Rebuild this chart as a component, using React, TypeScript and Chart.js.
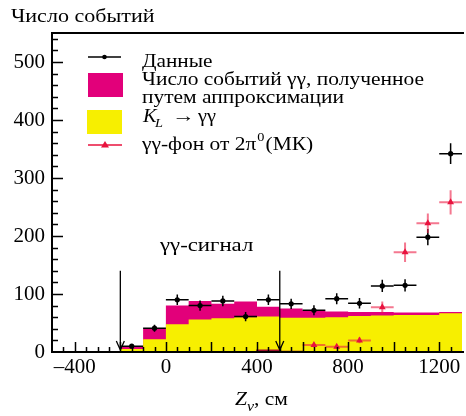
import { useEffect, useRef } from 'react';
import { Chart, registerables } from 'chart.js';

Chart.register(...registerables);

// ---- data ----
const binEdges = [-200, -100, 0, 100, 200, 300, 400, 500, 600, 700, 800, 900, 1000, 1100, 1200, 1300];
const fitTotal = [10, 40, 80, 88, 83, 87, 78, 75, 71, 70, 69, 69, 68, 68, 69];
const klSignal = [5, 22, 48, 56, 58, 60, 61, 59, 59, 60, 62, 63, 64, 64, 67];

const baseEdges = [-500, -400, -300, -200, -100, 0, 100, 200, 300, 400, 500, 600, 700, 800, 900, 1000, 1100, 1200, 1300];
const baseValues = [0, 0, 0, 0, 0, 0, 0, 0, 0, 3, 1, 0, 0, 0, 0, 0, 0, 0];

const dataZ = [-150, -50, 50, 150, 250, 350, 450, 550, 650, 750, 850, 950, 1050, 1150, 1250];
const dataN = [10, 41, 90, 80, 88, 61, 90, 83, 72, 92, 84, 114, 115, 198, 342];
const dataErr = [3, 6, 9, 9, 9, 8, 9, 9, 8.5, 9.5, 9, 10.5, 10.5, 14, 18];

const mcZ = [650, 750, 850, 950, 1050, 1150, 1250];
const mcN = [12, 9, 20, 77, 172, 222, 258];
const mcErr = [4, 4, 5, 10, 17, 17, 21];

const zErr = 50;
const cutZ = [-200, 500];
const cutTop = 140;

const xTickLabels = [-400, 0, 400, 800, 1200];
const yTickLabels = [0, 100, 200, 300, 400, 500];

const SERIF = '"Liberation Serif", "Times New Roman", serif';
const MAGENTA = '#E2007A';
const YELLOW = '#F7EF00';
const RED = '#E8123E';
const RED_ERR = 'rgba(236, 30, 70, 0.6)';
const STRETCH = 1.13;

function edgesToPoints(edges: number[], vals: number[]) {
  return edges.map((e, i) => ({ x: e, y: i < vals.length ? vals[i] : vals[vals.length - 1] }));
}

function txt(ctx: CanvasRenderingContext2D, s: string, x: number, y: number, font: string, k = STRETCH) {
  ctx.save();
  ctx.font = font;
  ctx.translate(x, y);
  ctx.scale(k, 1);
  ctx.fillText(s, 0, 0);
  const w = ctx.measureText(s).width * k;
  ctx.restore();
  return x + w;
}

function drawErrors(chart: any, xs: number[], ys: number[], errs: number[], color: string, lw: number) {
  const ctx = chart.ctx;
  const sx = chart.scales.x;
  const sy = chart.scales.y;
  const a = chart.chartArea;
  ctx.save();
  ctx.beginPath();
  ctx.rect(a.left, a.top, a.right - a.left, a.bottom - a.top);
  ctx.clip();
  ctx.strokeStyle = color;
  ctx.lineWidth = lw;
  for (let i = 0; i < xs.length; i++) {
    const px = sx.getPixelForValue(xs[i]);
    const py = sy.getPixelForValue(ys[i]);
    ctx.beginPath();
    ctx.moveTo(sx.getPixelForValue(xs[i] - zErr), py);
    ctx.lineTo(sx.getPixelForValue(xs[i] + zErr), py);
    ctx.moveTo(px, sy.getPixelForValue(ys[i] - errs[i]));
    ctx.lineTo(px, sy.getPixelForValue(ys[i] + errs[i]));
    ctx.stroke();
  }
  ctx.restore();
}

const decorPlugin = {
  id: 'decor',
  beforeDatasetDraw(chart: any, args: any) {
    if (args.index === 3) drawErrors(chart, dataZ, dataN, dataErr, '#000', 1.5);
    if (args.index === 4) drawErrors(chart, mcZ, mcN, mcErr, RED_ERR, 2);
  },
  afterDraw(chart: any) {
    const ctx = chart.ctx;
    const sx = chart.scales.x;
    const sy = chart.scales.y;
    const { left, right, top, bottom } = chart.chartArea;
    ctx.save();
    // frame
    ctx.strokeStyle = '#000';
    ctx.lineWidth = 2;
    ctx.beginPath();
    ctx.moveTo(right + 2, top);
    ctx.lineTo(left, top);
    ctx.lineTo(left, bottom);
    ctx.lineTo(right + 2, bottom);
    ctx.stroke();
    // x ticks (inward)
    ctx.lineWidth = 1.5;
    ctx.beginPath();
    for (let v = -500; v <= 1300; v += 50) {
      const px = Math.round(sx.getPixelForValue(v)) + 0.5;
      if (px <= left + 1 || px >= right) continue;
      const len = v % 200 === 0 ? 10 : 5;
      ctx.moveTo(px, bottom);
      ctx.lineTo(px, bottom - len);
    }
    // y ticks (inward)
    for (let v = 0; v <= 550; v += 20) {
      const py = Math.round(sy.getPixelForValue(v)) + 0.5;
      if (py >= bottom - 1 || py <= top + 1) continue;
      const len = v % 100 === 0 ? 11 : 6;
      ctx.moveTo(left, py);
      ctx.lineTo(left + len, py);
    }
    ctx.stroke();

    // cut arrows
    ctx.lineWidth = 1.3;
    for (const z of cutZ) {
      const px = sx.getPixelForValue(z);
      const pt = sy.getPixelForValue(cutTop);
      const pb = sy.getPixelForValue(0) - 2;
      ctx.beginPath();
      ctx.moveTo(px, pt);
      ctx.lineTo(px, pb);
      ctx.moveTo(px - 4, pb - 9);
      ctx.lineTo(px, pb);
      ctx.lineTo(px + 4, pb - 9);
      ctx.stroke();
    }

    ctx.fillStyle = '#000';
    ctx.textBaseline = 'alphabetic';
    ctx.textAlign = 'left';

    // signal label
    txt(ctx, 'γγ-сигнал', 160, 251, `19px ${SERIF}`, 1.2);

    // y title
    txt(ctx, 'Число событий', 11, 22, `19px ${SERIF}`, 1.16);

    // x title
    let x = txt(ctx, 'Z', 235, 405, `italic 19px ${SERIF}`);
    x = txt(ctx, 'v', x, 411, `italic 14px ${SERIF}`);
    txt(ctx, ', см', x, 405, `19px ${SERIF}`);

    // legend
    const tx = 142;
    const lf = `18.5px ${SERIF}`;
    ctx.strokeStyle = '#000';
    ctx.lineWidth = 1.5;
    ctx.beginPath();
    ctx.moveTo(88, 57);
    ctx.lineTo(121, 57);
    ctx.stroke();
    ctx.beginPath();
    ctx.arc(104.5, 57, 2.3, 0, Math.PI * 2);
    ctx.fill();
    txt(ctx, 'Данные', tx, 67, lf, 1.15);

    ctx.fillStyle = MAGENTA;
    ctx.fillRect(88, 73, 35, 24);
    ctx.fillStyle = '#000';
    txt(ctx, 'Число событий γγ, полученное', tx, 85, lf, 1.16);
    txt(ctx, 'путем аппроксимации', tx, 103, lf, 1.16);

    ctx.fillStyle = YELLOW;
    ctx.fillRect(87, 110, 35, 24);
    ctx.fillStyle = '#000';
    txt(ctx, 'K', 143, 122, `italic 18.5px ${SERIF}`, 1.1);
    txt(ctx, 'L', 155, 127, `italic 13px ${SERIF}`, 1.1);
    txt(ctx, '→', 172, 122, `19px ${SERIF}`, 1.2);
    txt(ctx, 'γγ', 198, 122, lf, 1.1);

    ctx.strokeStyle = RED;
    ctx.lineWidth = 1.5;
    ctx.beginPath();
    ctx.moveTo(88, 145);
    ctx.lineTo(122, 145);
    ctx.stroke();
    ctx.fillStyle = RED;
    ctx.beginPath();
    ctx.moveTo(105, 141);
    ctx.lineTo(109, 147.5);
    ctx.lineTo(101, 147.5);
    ctx.closePath();
    ctx.fill();
    ctx.fillStyle = '#000';
    x = txt(ctx, 'γγ-фон от 2π', tx, 150, lf, 1.16);
    x = txt(ctx, '0', x + 1, 141, `13px ${SERIF}`, 1.1);
    txt(ctx, '(МК)', x + 1, 150, lf, 1.16);

    ctx.restore();
  },
};

export default function App() {
  const ref = useRef<HTMLCanvasElement>(null);
  useEffect(() => {
    if (!ref.current) return;
    const chart = new Chart(ref.current, {
      type: 'line',
      data: {
        datasets: [
          {
            label: 'fit',
            data: edgesToPoints(binEdges, fitTotal),
            stepped: 'before',
            fill: 'origin',
            backgroundColor: MAGENTA,
            borderColor: MAGENTA,
            borderWidth: 0,
            pointRadius: 0,
            order: 3,
          },
          {
            label: 'kl',
            data: edgesToPoints(binEdges, klSignal),
            stepped: 'before',
            fill: 'origin',
            backgroundColor: YELLOW,
            borderColor: YELLOW,
            borderWidth: 0,
            pointRadius: 0,
            order: 2,
          },
          {
            label: 'base',
            data: edgesToPoints(baseEdges, baseValues),
            stepped: 'before',
            fill: false,
            borderColor: '#A0102E',
            borderWidth: 1.5,
            pointRadius: 0,
            order: 1,
          },
          {
            label: 'data',
            data: dataZ.map((z, i) => ({ x: z, y: dataN[i] })),
            showLine: false,
            pointRadius: 2.6,
            pointBackgroundColor: '#000',
            pointBorderWidth: 0,
            borderColor: '#000',
            order: 0,
          },
          {
            label: 'mc',
            data: mcZ.map((z, i) => ({ x: z, y: mcN[i] })),
            showLine: false,
            pointStyle: 'triangle',
            pointRadius: 4,
            pointBackgroundColor: RED,
            pointBorderColor: RED,
            pointBorderWidth: 0,
            borderColor: RED,
            order: -1,
          },
        ],
      },
      options: {
        animation: false,
        responsive: false,
        devicePixelRatio: 1,
        layout: { padding: { top: 33, right: 0, left: 0, bottom: 0 } },
        plugins: { legend: { display: false }, tooltip: { enabled: false } },
        scales: {
          x: {
            type: 'linear',
            min: -500,
            max: 1300,
            grid: { display: false, drawTicks: false },
            border: { display: false },
            afterBuildTicks: (s: any) => {
              s.ticks = xTickLabels.map((v) => ({ value: v }));
            },
            afterFit: (s: any) => {
              s.height = 64;
            },
            ticks: {
              color: '#000',
              font: { family: SERIF, size: 21 },
              padding: 3,
              maxRotation: 0,
              callback: (v: any) => (v < 0 ? '–' + Math.abs(v) : String(v)),
            },
          },
          y: {
            type: 'linear',
            min: 0,
            max: 550,
            grid: { display: false, drawTicks: false },
            border: { display: false },
            afterBuildTicks: (s: any) => {
              s.ticks = yTickLabels.map((v) => ({ value: v }));
            },
            afterFit: (s: any) => {
              s.width = 52;
            },
            ticks: {
              color: '#000',
              font: { family: SERIF, size: 21 },
              padding: 7,
            },
          },
        },
      },
      plugins: [decorPlugin],
    });
    return () => chart.destroy();
  }, []);
  return (
    <div style={{ position: 'absolute', left: 0, top: 0, width: 466, height: 416, background: '#fff' }}>
      <canvas ref={ref} width={466} height={416} />
    </div>
  );
}
